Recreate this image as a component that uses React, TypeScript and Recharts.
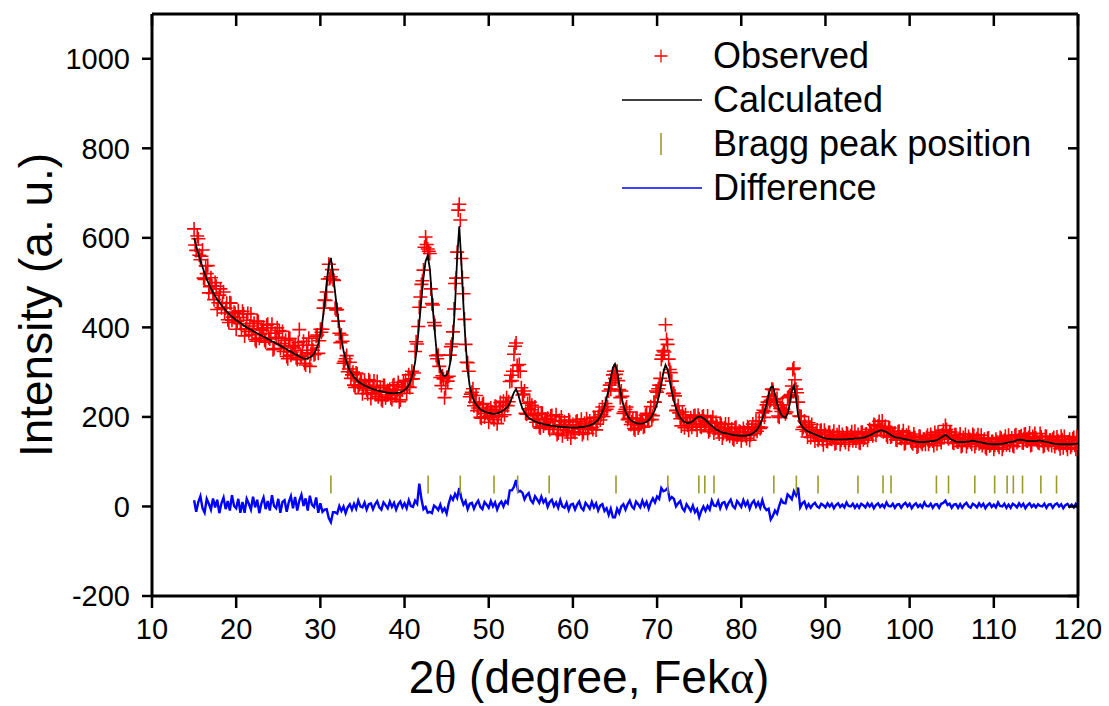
import React from "react";
import { ComposedChart, Line, Scatter, XAxis, YAxis, Legend, Label } from "recharts";

// 2theta grid (degrees) for calculated, difference and the first set of observed points
const twoTheta = [
  15, 15.25, 15.5, 15.75, 16, 16.25, 16.5, 16.75, 17, 17.25, 17.5, 17.75, 18, 18.25, 18.5, 18.75, 19, 19.25, 19.5, 19.75,
  20, 20.25, 20.5, 20.75, 21, 21.25, 21.5, 21.75, 22, 22.25, 22.5, 22.75, 23, 23.25, 23.5, 23.75, 24, 24.25, 24.5, 24.75,
  25, 25.25, 25.5, 25.75, 26, 26.25, 26.5, 26.75, 27, 27.25, 27.5, 27.75, 28, 28.25, 28.5, 28.75, 29, 29.25, 29.5, 29.75,
  30, 30.25, 30.5, 30.75, 31, 31.25, 31.5, 31.75, 32, 32.25, 32.5, 32.75, 33, 33.25, 33.5, 33.75, 34, 34.25, 34.5, 34.75,
  35, 35.25, 35.5, 35.75, 36, 36.25, 36.5, 36.75, 37, 37.25, 37.5, 37.75, 38, 38.25, 38.5, 38.75, 39, 39.25, 39.5, 39.75,
  40, 40.25, 40.5, 40.75, 41, 41.25, 41.5, 41.75, 42, 42.25, 42.5, 42.75, 43, 43.25, 43.5, 43.75, 44, 44.25, 44.5, 44.75,
  45, 45.25, 45.5, 45.75, 46, 46.25, 46.5, 46.75, 47, 47.25, 47.5, 47.75, 48, 48.25, 48.5, 48.75, 49, 49.25, 49.5, 49.75,
  50, 50.25, 50.5, 50.75, 51, 51.25, 51.5, 51.75, 52, 52.25, 52.5, 52.75, 53, 53.25, 53.5, 53.75, 54, 54.25, 54.5, 54.75,
  55, 55.25, 55.5, 55.75, 56, 56.25, 56.5, 56.75, 57, 57.25, 57.5, 57.75, 58, 58.25, 58.5, 58.75, 59, 59.25, 59.5, 59.75,
  60, 60.25, 60.5, 60.75, 61, 61.25, 61.5, 61.75, 62, 62.25, 62.5, 62.75, 63, 63.25, 63.5, 63.75, 64, 64.25, 64.5, 64.75,
  65, 65.25, 65.5, 65.75, 66, 66.25, 66.5, 66.75, 67, 67.25, 67.5, 67.75, 68, 68.25, 68.5, 68.75, 69, 69.25, 69.5, 69.75,
  70, 70.25, 70.5, 70.75, 71, 71.25, 71.5, 71.75, 72, 72.25, 72.5, 72.75, 73, 73.25, 73.5, 73.75, 74, 74.25, 74.5, 74.75,
  75, 75.25, 75.5, 75.75, 76, 76.25, 76.5, 76.75, 77, 77.25, 77.5, 77.75, 78, 78.25, 78.5, 78.75, 79, 79.25, 79.5, 79.75,
  80, 80.25, 80.5, 80.75, 81, 81.25, 81.5, 81.75, 82, 82.25, 82.5, 82.75, 83, 83.25, 83.5, 83.75, 84, 84.25, 84.5, 84.75,
  85, 85.25, 85.5, 85.75, 86, 86.25, 86.5, 86.75, 87, 87.25, 87.5, 87.75, 88, 88.25, 88.5, 88.75, 89, 89.25, 89.5, 89.75,
  90, 90.25, 90.5, 90.75, 91, 91.25, 91.5, 91.75, 92, 92.25, 92.5, 92.75, 93, 93.25, 93.5, 93.75, 94, 94.25, 94.5, 94.75,
  95, 95.25, 95.5, 95.75, 96, 96.25, 96.5, 96.75, 97, 97.25, 97.5, 97.75, 98, 98.25, 98.5, 98.75, 99, 99.25, 99.5, 99.75,
  100, 100.25, 100.5, 100.75, 101, 101.25, 101.5, 101.75, 102, 102.25, 102.5, 102.75, 103, 103.25, 103.5, 103.75, 104, 104.25, 104.5, 104.75,
  105, 105.25, 105.5, 105.75, 106, 106.25, 106.5, 106.75, 107, 107.25, 107.5, 107.75, 108, 108.25, 108.5, 108.75, 109, 109.25, 109.5, 109.75,
  110, 110.25, 110.5, 110.75, 111, 111.25, 111.5, 111.75, 112, 112.25, 112.5, 112.75, 113, 113.25, 113.5, 113.75, 114, 114.25, 114.5, 114.75,
  115, 115.25, 115.5, 115.75, 116, 116.25, 116.5, 116.75, 117, 117.25, 117.5, 117.75, 118, 118.25, 118.5, 118.75, 119, 119.25, 119.5, 119.75,
  120,
];

// in-between scan points of the observed pattern
const twoThetaMid = [
  15.125, 15.375, 15.625, 15.875, 16.125, 16.375, 16.625, 16.875, 17.125, 17.375, 17.625, 17.875, 18.125, 18.375, 18.625, 18.875, 19.125, 19.375, 19.625, 19.875,
  20.125, 20.375, 20.625, 20.875, 21.125, 21.375, 21.625, 21.875, 22.125, 22.375, 22.625, 22.875, 23.125, 23.375, 23.625, 23.875, 24.125, 24.375, 24.625, 24.875,
  25.125, 25.375, 25.625, 25.875, 26.125, 26.375, 26.625, 26.875, 27.125, 27.375, 27.625, 27.875, 28.125, 28.375, 28.625, 28.875, 29.125, 29.375, 29.625, 29.875,
  30.125, 30.375, 30.625, 30.875, 31.125, 31.375, 31.625, 31.875, 32.125, 32.375, 32.625, 32.875, 33.125, 33.375, 33.625, 33.875, 34.125, 34.375, 34.625, 34.875,
  35.125, 35.375, 35.625, 35.875, 36.125, 36.375, 36.625, 36.875, 37.125, 37.375, 37.625, 37.875, 38.125, 38.375, 38.625, 38.875, 39.125, 39.375, 39.625, 39.875,
  40.125, 40.375, 40.625, 40.875, 41.125, 41.375, 41.625, 41.875, 42.125, 42.375, 42.625, 42.875, 43.125, 43.375, 43.625, 43.875, 44.125, 44.375, 44.625, 44.875,
  45.125, 45.375, 45.625, 45.875, 46.125, 46.375, 46.625, 46.875, 47.125, 47.375, 47.625, 47.875, 48.125, 48.375, 48.625, 48.875, 49.125, 49.375, 49.625, 49.875,
  50.125, 50.375, 50.625, 50.875, 51.125, 51.375, 51.625, 51.875, 52.125, 52.375, 52.625, 52.875, 53.125, 53.375, 53.625, 53.875, 54.125, 54.375, 54.625, 54.875,
  55.125, 55.375, 55.625, 55.875, 56.125, 56.375, 56.625, 56.875, 57.125, 57.375, 57.625, 57.875, 58.125, 58.375, 58.625, 58.875, 59.125, 59.375, 59.625, 59.875,
  60.125, 60.375, 60.625, 60.875, 61.125, 61.375, 61.625, 61.875, 62.125, 62.375, 62.625, 62.875, 63.125, 63.375, 63.625, 63.875, 64.125, 64.375, 64.625, 64.875,
  65.125, 65.375, 65.625, 65.875, 66.125, 66.375, 66.625, 66.875, 67.125, 67.375, 67.625, 67.875, 68.125, 68.375, 68.625, 68.875, 69.125, 69.375, 69.625, 69.875,
  70.125, 70.375, 70.625, 70.875, 71.125, 71.375, 71.625, 71.875, 72.125, 72.375, 72.625, 72.875, 73.125, 73.375, 73.625, 73.875, 74.125, 74.375, 74.625, 74.875,
  75.125, 75.375, 75.625, 75.875, 76.125, 76.375, 76.625, 76.875, 77.125, 77.375, 77.625, 77.875, 78.125, 78.375, 78.625, 78.875, 79.125, 79.375, 79.625, 79.875,
  80.125, 80.375, 80.625, 80.875, 81.125, 81.375, 81.625, 81.875, 82.125, 82.375, 82.625, 82.875, 83.125, 83.375, 83.625, 83.875, 84.125, 84.375, 84.625, 84.875,
  85.125, 85.375, 85.625, 85.875, 86.125, 86.375, 86.625, 86.875, 87.125, 87.375, 87.625, 87.875, 88.125, 88.375, 88.625, 88.875, 89.125, 89.375, 89.625, 89.875,
  90.125, 90.375, 90.625, 90.875, 91.125, 91.375, 91.625, 91.875, 92.125, 92.375, 92.625, 92.875, 93.125, 93.375, 93.625, 93.875, 94.125, 94.375, 94.625, 94.875,
  95.125, 95.375, 95.625, 95.875, 96.125, 96.375, 96.625, 96.875, 97.125, 97.375, 97.625, 97.875, 98.125, 98.375, 98.625, 98.875, 99.125, 99.375, 99.625, 99.875,
  100.125, 100.375, 100.625, 100.875, 101.125, 101.375, 101.625, 101.875, 102.125, 102.375, 102.625, 102.875, 103.125, 103.375, 103.625, 103.875, 104.125, 104.375, 104.625, 104.875,
  105.125, 105.375, 105.625, 105.875, 106.125, 106.375, 106.625, 106.875, 107.125, 107.375, 107.625, 107.875, 108.125, 108.375, 108.625, 108.875, 109.125, 109.375, 109.625, 109.875,
  110.125, 110.375, 110.625, 110.875, 111.125, 111.375, 111.625, 111.875, 112.125, 112.375, 112.625, 112.875, 113.125, 113.375, 113.625, 113.875, 114.125, 114.375, 114.625, 114.875,
  115.125, 115.375, 115.625, 115.875, 116.125, 116.375, 116.625, 116.875, 117.125, 117.375, 117.625, 117.875, 118.125, 118.375, 118.625, 118.875, 119.125, 119.375, 119.625, 119.875,
];

const observed = [
  620, 572, 598, 551, 573, 507, 520, 477, 511, 476, 500, 440, 472, 444, 479, 443, 417, 455, 416, 434,
  396, 437, 408, 436, 381, 416, 391, 430, 397, 373, 414, 376, 396, 399, 367, 407, 374, 407, 353, 376,
  378, 353, 391, 359, 335, 375, 338, 357, 360, 328, 395, 335, 369, 316, 343, 313, 360, 339, 380, 342,
  396, 396, 461, 479, 541, 513, 507, 443, 440, 387, 383, 320, 330, 301, 322, 294, 271, 298, 267, 281,
  252, 282, 260, 283, 241, 268, 250, 279, 256, 239, 270, 243, 259, 262, 239, 272, 248, 277, 238, 260,
  266, 253, 294, 284, 285, 346, 363, 445, 496, 528, 602, 575, 565, 453, 411, 337, 338, 288, 292, 243,
  288, 291, 357, 390, 498, 568, 675, 554, 475, 362, 321, 245, 255, 225, 248, 220, 199, 228, 200, 215,
  188, 220, 199, 224, 185, 216, 201, 235, 226, 225, 279, 281, 340, 365, 302, 302, 249, 258, 206, 218,
  216, 195, 222, 197, 178, 208, 180, 195, 197, 172, 203, 179, 205, 164, 183, 158, 189, 169, 193, 153,
  183, 165, 191, 173, 195, 165, 181, 163, 191, 177, 199, 171, 199, 193, 222, 214, 217, 258, 262, 294,
  286, 302, 261, 258, 208, 217, 194, 211, 189, 174, 197, 175, 189, 192, 179, 208, 194, 223, 203, 233,
  255, 271, 329, 348, 406, 362, 306, 280, 253, 214, 225, 196, 211, 176, 189, 170, 198, 185, 203, 171,
  196, 177, 202, 182, 202, 171, 186, 164, 188, 170, 186, 153, 175, 161, 184, 165, 152, 176, 155, 168,
  147, 174, 158, 178, 148, 173, 163, 191, 178, 174, 209, 199, 227, 245, 237, 261, 232, 241, 199, 212,
  217, 207, 243, 248, 269, 309, 262, 233, 201, 172, 191, 168, 187, 154, 167, 146, 171, 153, 170, 138,
  161, 145, 166, 150, 168, 142, 155, 139, 161, 148, 164, 139, 158, 147, 168, 153, 143, 165, 149, 161,
  148, 172, 162, 183, 159, 180, 171, 191, 172, 159, 176, 155, 163, 164, 148, 168, 152, 169, 142, 154,
  155, 143, 162, 146, 135, 156, 139, 150, 154, 139, 161, 146, 165, 140, 156, 143, 170, 181, 156, 166,
  158, 141, 160, 144, 162, 136, 149, 134, 156, 144, 161, 134, 152, 140, 159, 143, 132, 152, 135, 145,
  128, 150, 137, 154, 128, 148, 138, 159, 145, 136, 158, 143, 155, 158, 142, 162, 146, 164, 138, 151,
  153, 143, 163, 147, 136, 156, 138, 148, 150, 134, 155, 139, 157, 131, 144, 128, 150, 137, 154, 128,
  148,
];

const observedMid = [
  584, 604, 561, 559, 510, 537, 538, 491, 493, 462, 492, 455, 486, 454, 432, 454, 411, 454, 423, 431,
  413, 422, 396, 430, 397, 431, 403, 384, 409, 369, 413, 384, 393, 371, 405, 377, 387, 350, 387, 399,
  393, 364, 346, 371, 330, 375, 345, 354, 332, 366, 338, 349, 320, 360, 376, 341, 349, 341, 383, 370,
  389, 443, 460, 508, 509, 529, 505, 439, 414, 366, 369, 324, 337, 307, 286, 300, 266, 296, 272, 278,
  264, 271, 252, 279, 254, 280, 259, 245, 265, 236, 270, 249, 257, 242, 270, 250, 260, 234, 267, 279,
  282, 268, 266, 302, 298, 368, 402, 468, 504, 579, 585, 570, 486, 450, 404, 330, 313, 270, 285, 263,
  280, 338, 363, 441, 510, 662, 640, 511, 418, 322, 302, 251, 263, 233, 214, 229, 197, 230, 208, 215,
  203, 211, 194, 223, 202, 232, 214, 205, 243, 234, 293, 302, 358, 315, 317, 265, 251, 208, 230, 233,
  226, 203, 188, 206, 175, 208, 186, 193, 176, 202, 181, 190, 161, 192, 200, 172, 180, 162, 190, 167,
  167, 189, 174, 182, 161, 186, 196, 175, 184, 172, 198, 184, 212, 205, 201, 230, 223, 271, 276, 302,
  295, 281, 243, 246, 212, 222, 197, 183, 196, 171, 197, 181, 188, 177, 204, 193, 206, 194, 233, 258,
  263, 286, 338, 345, 373, 329, 299, 252, 247, 215, 209, 180, 199, 205, 182, 189, 177, 202, 183, 204,
  179, 200, 184, 190, 167, 190, 199, 174, 179, 162, 183, 163, 184, 167, 157, 173, 149, 177, 160, 167,
  159, 166, 152, 176, 160, 184, 172, 168, 191, 177, 215, 212, 233, 234, 262, 238, 234, 202, 219, 227,
  212, 211, 245, 250, 306, 283, 254, 202, 201, 177, 179, 155, 176, 183, 159, 164, 148, 169, 149, 170,
  146, 165, 151, 158, 140, 160, 167, 148, 155, 143, 162, 148, 167, 153, 146, 161, 141, 166, 153, 162,
  157, 167, 158, 181, 169, 190, 177, 167, 179, 155, 175, 157, 162, 149, 167, 153, 159, 140, 159, 165,
  149, 140, 154, 133, 157, 143, 150, 139, 159, 146, 154, 136, 157, 166, 150, 160, 154, 172, 151, 166,
  143, 160, 145, 152, 134, 154, 161, 143, 150, 139, 158, 142, 160, 145, 136, 150, 129, 153, 138, 145,
  137, 144, 132, 152, 137, 157, 144, 137, 153, 134, 160, 147, 155, 143, 161, 147, 154, 136, 156, 163,
  148, 141, 155, 134, 157, 142, 148, 136, 154, 141, 147, 129, 149, 156, 137, 144, 132, 151, 137, 156,
];

const calculated = [
  600, 582, 565, 549, 535, 521, 508, 497, 487, 478, 470, 462, 456, 450, 444, 438, 433, 428, 424, 420,
  416, 413, 410, 406, 403, 400, 397, 395, 392, 389, 387, 384, 382, 379, 377, 374, 372, 369, 367, 364,
  362, 359, 356, 354, 351, 348, 346, 343, 340, 338, 335, 333, 331, 330, 331, 333, 336, 341, 350, 364,
  385, 414, 452, 500, 540, 555, 522, 478, 438, 402, 372, 348, 329, 315, 304, 296, 289, 284, 279, 276,
  273, 270, 268, 266, 264, 262, 261, 259, 258, 257, 256, 255, 254, 253, 253, 253, 253, 254, 255, 257,
  260, 264, 271, 282, 298, 322, 360, 410, 462, 512, 548, 560, 532, 470, 408, 358, 326, 306, 295, 291,
  294, 305, 328, 375, 450, 555, 626, 545, 448, 365, 304, 268, 249, 236, 228, 222, 217, 214, 212, 210,
  209, 208, 207, 207, 208, 210, 212, 215, 218, 223, 230, 243, 255, 262, 251, 233, 219, 210, 203, 198,
  195, 192, 190, 188, 186, 185, 184, 183, 182, 181, 180, 180, 179, 178, 178, 177, 177, 177, 176, 176,
  176, 176, 176, 177, 177, 178, 179, 180, 181, 183, 186, 189, 194, 201, 211, 224, 241, 262, 287, 310,
  318, 302, 272, 245, 226, 212, 202, 195, 191, 188, 186, 185, 185, 185, 187, 189, 193, 198, 206, 216,
  230, 249, 273, 300, 316, 306, 281, 256, 236, 219, 207, 198, 193, 189, 187, 187, 188, 191, 195, 199,
  201, 200, 197, 193, 189, 184, 180, 176, 172, 170, 167, 165, 164, 163, 162, 161, 160, 159, 159, 158,
  158, 158, 158, 159, 160, 162, 165, 169, 175, 184, 196, 211, 229, 250, 266, 268, 251, 231, 215, 205,
  200, 199, 207, 228, 258, 270, 242, 204, 186, 178, 173, 169, 167, 165, 163, 161, 159, 157, 155, 154,
  152, 151, 151, 150, 150, 150, 150, 150, 150, 150, 150, 151, 151, 151, 152, 152, 152, 153, 154, 155,
  157, 159, 161, 164, 166, 168, 170, 170, 168, 166, 163, 160, 157, 155, 154, 153, 152, 151, 150, 149,
  148, 147, 146, 145, 144, 144, 144, 144, 145, 145, 146, 146, 147, 148, 151, 154, 157, 160, 157, 152,
  149, 147, 145, 144, 144, 144, 144, 145, 145, 146, 147, 146, 145, 144, 143, 142, 141, 140, 140, 139,
  139, 139, 139, 140, 140, 141, 142, 143, 144, 145, 146, 148, 149, 149, 148, 147, 146, 146, 146, 146,
  146, 147, 147, 146, 145, 144, 143, 142, 141, 140, 140, 139, 139, 139, 139, 139, 139, 139, 140, 140,
  141,
];

const difference = [
  14, -12, 10, 23, -4, -14, 17, 6, -7, 18, -2, 15, -15, 7, 20, -6, 12, -9, 25, 1,
  -4, 17, -14, 10, -14, 17, 6, -7, 22, -2, 15, -15, 7, 20, -6, 12, -9, 25, 1, -4,
  17, -14, 10, 14, -12, 10, 23, -4, 21, -9, 13, 26, 1, 18, -9, 24, 4, -1, 20, -14,
  7, -12, -7, -6, -26, -35, -13, -13, -16, 1, -10, 0, -15, -2, 5, -7, 6, -5, 13, 0,
  -2, 9, -7, 5, 7, -6, 5, 12, -2, -7, 9, 3, -4, 11, -1, 8, -7, 5, 11, -2,
  7, -4, 14, 1, -1, 13, 6, 51, 17, -6, -1, -14, -12, -15, 2, -2, -8, 4, -11, -4,
  -16, 7, 22, 15, 28, 19, 41, 18, 4, 12, -6, 6, 8, -5, 6, 13, -1, -6, 10, 4,
  -3, 12, 0, 9, -7, 5, 11, 0, 12, 7, 36, 36, 44, 59, 33, 35, 31, 16, 25, 30,
  14, 8, 23, 16, 8, 22, 9, 16, -1, 10, 15, 1, 9, -3, 14, 0, -3, 8, -8, 4,
  6, -7, 4, 11, -3, -8, 8, 2, -5, 10, -2, 7, -9, 2, 5, -10, -4, -19, -5, -24,
  -24, -5, -15, 0, 5, -7, 5, 13, 0, -5, 11, 5, -2, 13, 1, 10, -5, 9, 18, 9,
  22, 17, 41, 34, 36, 41, 15, 21, 17, 0, 7, 12, -4, -10, 5, -2, -10, 2, -13, -6,
  -24, -10, 0, -10, 1, -7, 13, 2, 1, 12, -4, 8, 10, -3, 8, 15, 1, -4, 12, 6,
  -1, 14, 2, 11, -5, 7, 13, 0, 9, -3, 14, -2, -8, -5, -29, -21, -9, -16, 1, 15,
  8, 7, 27, 22, 16, 34, 25, 42, -2, 7, 11, -3, 5, -3, 4, 8, 0, -3, 6, 3,
  -2, 7, 0, 6, -4, 3, 7, -1, 4, -2, 9, 1, 0, 6, -3, 4, -3, 6, 3, -2,
  7, 0, 6, -4, 3, 7, -1, 4, -2, 9, 1, 0, 6, -3, 4, 5, -3, 4, 8, 0,
  6, -4, 3, 7, -1, 4, -2, 9, 1, 0, 6, -3, 4, 5, -3, 6, 8, 13, 3, 6,
  -3, 4, 5, -3, 5, -3, 4, 8, 0, -3, 6, 3, -2, 7, 0, 6, -4, 3, 7, -1,
  4, -2, 9, 1, 0, 6, -3, 4, -3, 6, 3, -2, 7, 0, 6, -4, 3, 7, -1, 4,
  -2, 5, 1, 0, 6, -3, 4, 5, -3, 4, 7, 0, 5, -4, 3, 6, -1, 4, -2, 6,
  1,
];

const braggPeaks = [
  31.25, 42.8, 46.62, 50.63, 53.44, 57.18, 65.12, 71.27, 74.96, 75.67, 76.76, 83.87, 86.54,
  89.12, 93.86, 96.84, 97.79, 103.18, 104.62, 107.74, 110.1, 111.58, 112.32, 113.41, 115.59, 117.45,
];
const braggLevel = 49;

const xTicks = [10, 20, 30, 40, 50, 60, 70, 80, 90, 100, 110, 120];
const yTicks = [-200, 0, 200, 400, 600, 800, 1000];
const legendLabels = ["Observed", "Calculated", "Bragg peak position", "Difference"];

const obsData = [
  ...twoTheta.map((x, i) => ({ x, y: observed[i] })),
  ...twoThetaMid.map((x, i) => ({ x, y: observedMid[i] })),
];
const calcData = twoTheta.map((x, i) => ({ x, y: calculated[i] }));
const diffData = twoTheta.map((x, i) => ({ x, y: difference[i] }));
const braggData = braggPeaks.map((x) => ({ x, y: braggLevel }));

const FONT = "'Liberation Sans', Arial, sans-serif";
const RED = "#ff0000";
const BLUE = "#0000ff";
const OLIVE = "#9b9b2c";

const axisLine = { stroke: "#000", strokeWidth: 3 };
const tickLine = { stroke: "#000", strokeWidth: 2.5 };
const tickStyle = { fontSize: 29, fill: "#000", fontFamily: FONT };

// mirror axes keep their tick marks but show no labels
const NoLabel = () => <g />;

const PlusMark = (props: any) => {
  const { cx, cy } = props;
  if (cx == null || cy == null) return null;
  return (
    <path
      d={`M${cx - 7},${cy}H${cx + 7}M${cx},${cy - 7}V${cy + 7}`}
      stroke={RED}
      strokeWidth={1.6}
      fill="none"
    />
  );
};

const BraggMark = (props: any) => {
  const { cx, cy } = props;
  if (cx == null || cy == null) return null;
  return <line x1={cx} x2={cx} y1={cy - 9} y2={cy + 9} stroke={OLIVE} strokeWidth={1.6} />;
};

const XTitle = () => (
  <text x={589} y={693} textAnchor="middle" fontSize={46} fontFamily={FONT} fill="#000">
    2<tspan fontFamily="'Liberation Serif', serif">θ</tspan> (degree, Fek
    <tspan fontFamily="'Liberation Serif', serif">α</tspan>)
  </text>
);

const YTitle = () => (
  <text
    x={52}
    y={305}
    transform="rotate(-90 52 305)"
    textAnchor="middle"
    fontSize={46}
    fontFamily={FONT}
    fill="#000"
  >
    Intensity (a. u.)
  </text>
);

const renderLegend = () => (
  <svg width={460} height={190} style={{ display: "block" }}>
    {legendLabels.map((name, i) => {
      const rowY = 26 + i * 44;
      let marker;
      if (i === 0) {
        marker = (
          <path d={`M54.5,${rowY}H67.5M61,${rowY - 6.5}V${rowY + 6.5}`} stroke={RED} strokeWidth={1.3} />
        );
      } else if (i === 1) {
        marker = <line x1={22} x2={102} y1={rowY} y2={rowY} stroke="#000" strokeWidth={1.6} />;
      } else if (i === 2) {
        marker = <line x1={61} x2={61} y1={rowY - 11} y2={rowY + 11} stroke={OLIVE} strokeWidth={1.6} />;
      } else {
        marker = <line x1={22} x2={102} y1={rowY} y2={rowY} stroke={BLUE} strokeWidth={1.6} />;
      }
      return (
        <g key={name}>
          {marker}
          <text x={113} y={rowY + 12} fontSize={36} fontFamily={FONT} fill="#000">
            {name}
          </text>
        </g>
      );
    })}
  </svg>
);

export default function App() {
  return (
    <div style={{ position: "absolute", left: 0, top: 0, width: 1109, height: 706, background: "#fff", fontFamily: FONT }}>
      <ComposedChart width={1109} height={706} margin={{ top: 14, right: 31, bottom: 0, left: 0 }}>
        <XAxis
          dataKey="x"
          type="number"
          domain={[10, 120]}
          ticks={xTicks}
          interval={0}
          allowDataOverflow
          height={110}
          tickSize={12}
          tickMargin={10}
          axisLine={axisLine}
          tickLine={tickLine}
          tick={tickStyle}
          label={<Label content={XTitle} />}
        />
        <XAxis
          xAxisId="top"
          dataKey="x"
          orientation="top"
          type="number"
          domain={[10, 120]}
          ticks={xTicks}
          interval={0}
          allowDataOverflow
          height={1}
          mirror
          tick={NoLabel}
          tickSize={12}
          axisLine={axisLine}
          tickLine={tickLine}
        />
        <YAxis
          dataKey="y"
          type="number"
          domain={[-200, 1100]}
          ticks={yTicks}
          interval={0}
          allowDataOverflow
          width={152}
          tickSize={10}
          tickMargin={12}
          axisLine={axisLine}
          tickLine={tickLine}
          tick={tickStyle}
          label={<Label content={YTitle} />}
        />
        <YAxis
          yAxisId="right"
          dataKey="y"
          orientation="right"
          type="number"
          domain={[-200, 1100]}
          ticks={yTicks}
          interval={0}
          allowDataOverflow
          width={1}
          mirror
          tick={NoLabel}
          tickSize={10}
          axisLine={axisLine}
          tickLine={tickLine}
        />
        <Legend
          layout="vertical"
          align="center"
          verticalAlign="middle"
          content={renderLegend}
          wrapperStyle={{ left: 600, top: 30, width: 460, height: 190 }}
        />
        <Scatter
          name="Bragg peak position"
          data={braggData}
          dataKey="y"
          xAxisId="top"
          yAxisId="right"
          shape={<BraggMark />}
          isAnimationActive={false}
        />
        <Line
          name="Difference"
          data={diffData}
          dataKey="y"
          type="linear"
          dot={false}
          stroke={BLUE}
          strokeWidth={2.4}
          isAnimationActive={false}
        />
        <Scatter
          name="Observed"
          data={obsData}
          dataKey="y"
          shape={<PlusMark />}
          isAnimationActive={false}
        />
        <Line
          name="Calculated"
          data={calcData}
          dataKey="y"
          type="linear"
          dot={false}
          stroke="#000"
          strokeWidth={1.8}
          zIndex={700}
          isAnimationActive={false}
        />
      </ComposedChart>
    </div>
  );
}
